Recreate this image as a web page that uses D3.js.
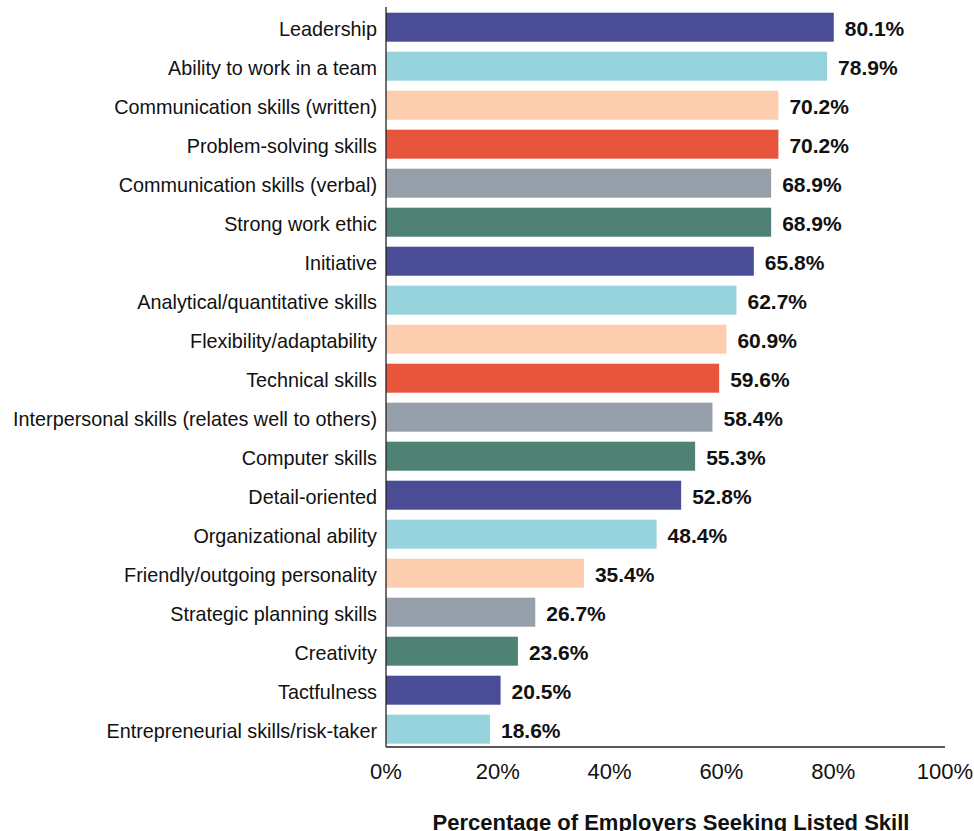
<!DOCTYPE html>
<html lang="en">
<head>
    <meta charset="UTF-8">
    <title>Employer Skills Bar Chart</title>
    <script src="https://d3js.org/d3.v7.min.js"></script>
    <style>
        body {
            margin: 0;
            background: white;
            font-family: 'Liberation Sans', Arial, sans-serif;
        }
    </style>
</head>
<body>
<div id="chart"></div>
<script>
    // Skills, top to bottom
    const skills = [
        "Leadership",
        "Ability to work in a team",
        "Communication skills (written)",
        "Problem-solving skills",
        "Communication skills (verbal)",
        "Strong work ethic",
        "Initiative",
        "Analytical/quantitative skills",
        "Flexibility/adaptability",
        "Technical skills",
        "Interpersonal skills (relates well to others)",
        "Computer skills",
        "Detail-oriented",
        "Organizational ability",
        "Friendly/outgoing personality",
        "Strategic planning skills",
        "Creativity",
        "Tactfulness",
        "Entrepreneurial skills/risk-taker"
    ];
    const percents = [80.1, 78.9, 70.2, 70.2, 68.9, 68.9, 65.8, 62.7, 60.9, 59.6,
                      58.4, 55.3, 52.8, 48.4, 35.4, 26.7, 23.6, 20.5, 18.6];
    // colour group for each bar (index into palette)
    const colourKeys = [0, 1, 2, 3, 4, 5, 0, 1, 2, 3, 4, 5, 0, 1, 2, 4, 5, 0, 1];
    const ticks = [0, 20, 40, 60, 80, 100];
    const palette = ["#4a4c96", "#96d3dc", "#fccdae", "#e6553c", "#96a0aa", "#4f8275"];

    const width = 974, height = 831;
    const x0 = 386, x1 = 945;
    const axisY = 747;

    const svg = d3.select("#chart").append("svg")
        .attr("width", width)
        .attr("height", height);

    const x = d3.scaleLinear().domain([0, 100]).range([x0, x1]);
    const y = d3.scaleBand().domain(skills).range([7.7, 748.7])
        .paddingInner(0.256).paddingOuter(0.128);

    const rows = skills.map((s, i) => ({ skill: s, value: percents[i], c: colourKeys[i] }));

    svg.selectAll("rect.bar")
        .data(rows)
        .join("rect")
        .attr("class", "bar")
        .attr("x", x(0))
        .attr("y", d => y(d.skill))
        .attr("width", d => x(d.value) - x(0))
        .attr("height", y.bandwidth())
        .attr("fill", d => palette[d.c]);

    // value labels
    svg.selectAll("text.val")
        .data(rows)
        .join("text")
        .attr("class", "val")
        .attr("x", d => x(d.value) + 11)
        .attr("y", d => y(d.skill) + y.bandwidth() / 2 + 1)
        .attr("dy", "0.35em")
        .style("font-size", "21px")
        .style("font-weight", "bold")
        .attr("fill", "#111")
        .text(d => d.value.toFixed(1) + "%");

    // category labels
    svg.selectAll("text.cat")
        .data(rows)
        .join("text")
        .attr("class", "cat")
        .attr("x", 377)
        .attr("y", d => y(d.skill) + y.bandwidth() / 2 + 2)
        .attr("dy", "0.35em")
        .attr("text-anchor", "end")
        .style("font-size", "19.8px")
        .attr("fill", "#111")
        .text(d => d.skill);

    // axis lines
    svg.append("line")
        .attr("x1", x0).attr("x2", x0)
        .attr("y1", 7).attr("y2", axisY)
        .attr("stroke", "#222").attr("stroke-width", 1.3);
    svg.append("line")
        .attr("x1", x0).attr("x2", x1)
        .attr("y1", axisY).attr("y2", axisY)
        .attr("stroke", "#222").attr("stroke-width", 1.3);

    // tick labels
    svg.selectAll("text.tick")
        .data(ticks)
        .join("text")
        .attr("class", "tick")
        .attr("x", d => x(d))
        .attr("y", 779)
        .attr("text-anchor", "middle")
        .style("font-size", "22px")
        .attr("fill", "#111")
        .text(d => d + "%");

    // axis title (sits at the bottom edge, as in the source)
    svg.append("text")
        .attr("x", 671)
        .attr("y", 830)
        .attr("text-anchor", "middle")
        .style("font-size", "22px")
        .style("font-weight", "bold")
        .attr("fill", "#111")
        .text("Percentage of Employers Seeking Listed Skill");
</script>
</body>
</html>
